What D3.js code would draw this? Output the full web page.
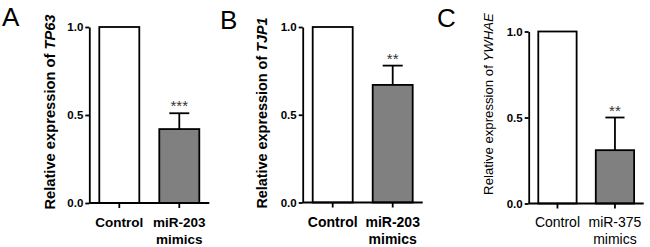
<!DOCTYPE html>
<html>
<head>
<meta charset="utf-8">
<script src="https://cdn.jsdelivr.net/npm/d3@7"></script>
<style>
  body { margin: 0; background: #fff; }
  svg { display: block; }
  .axis path, .axis line { stroke: #000; stroke-width: 1.8; }
</style>
</head>
<body>
<svg width="650" height="247"></svg>
<script>
// values
var letters = ["A", "B", "C"];
var genes = ["TP63", "TJP1", "YWHAE"];
var mimicNames = ["miR-203", "miR-203", "miR-375"];
var controlValues = [1, 1, 1];
var mimicValues = [0.42, 0.67, 0.31];
var mimicErrors = [0.09, 0.11, 0.19];
var stars = ["***", "**", "**"];
var yTicks = [0, 0.5, 1];

// where each panel sits
var layout = [
  {ax: 89.3, len: 120, y0: 203, y1: 27, lx: 2, ly: 26, labX: 55, labY: 112, bold: true, labSize: 14.7, xSize: 13.5},
  {ax: 302.7, len: 120, y0: 202.5, y1: 27, lx: 220, ly: 29, labX: 267, labY: 113, bold: true, labSize: 14.4, xSize: 14},
  {ax: 528.7, len: 115, y0: 203.5, y1: 31.5, lx: 437, ly: 27, labX: 492.5, labY: 104, bold: false, labSize: 13.2, xSize: 14}
];

var svg = d3.select("svg");
var font = "Arial, 'Liberation Sans', sans-serif";

letters.forEach(function(letter, i) {
  var L = layout[i];
  var g = svg.append("g");

  var cats = ["Control", mimicNames[i] + " mimics"];
  var data = [
    {key: cats[0], value: controlValues[i], err: 0, fill: "#fff"},
    {key: cats[1], value: mimicValues[i], err: mimicErrors[i], fill: "#808080"}
  ];

  var x = d3.scaleBand()
    .domain(cats)
    .range([L.ax, L.ax + L.len])
    .paddingInner(1 / 3)
    .paddingOuter(1 / 6);

  var y = d3.scaleLinear()
    .domain([0, 1])
    .range([L.y0, L.y1]);

  // bars
  g.selectAll("rect.bar")
    .data(data)
    .enter().append("rect")
    .attr("class", "bar")
    .attr("x", function(d) { return x(d.key); })
    .attr("y", function(d) { return y(d.value); })
    .attr("width", x.bandwidth())
    .attr("height", function(d) { return y(0) - y(d.value); })
    .attr("fill", function(d) { return d.fill; })
    .attr("stroke", "#000")
    .attr("stroke-width", 1.8);

  // upper error bar only
  var e = data[1];
  var cx = x(e.key) + x.bandwidth() / 2;
  g.append("line")
    .attr("x1", cx).attr("x2", cx)
    .attr("y1", y(e.value)).attr("y2", y(e.value + e.err))
    .attr("stroke", "#000").attr("stroke-width", 1.8);
  g.append("line")
    .attr("x1", cx - x.bandwidth() / 4).attr("x2", cx + x.bandwidth() / 4)
    .attr("y1", y(e.value + e.err)).attr("y2", y(e.value + e.err))
    .attr("stroke", "#000").attr("stroke-width", 1.8);

  g.append("text")
    .attr("x", cx)
    .attr("y", y(e.value + e.err) - 2)
    .attr("text-anchor", "middle")
    .style("font-family", font)
    .style("font-size", "15px")
    .attr("fill", "#333")
    .text(stars[i]);

  // y axis
  var yAxis = g.append("g")
    .attr("class", "axis")
    .attr("transform", "translate(" + L.ax + ",0)")
    .call(d3.axisLeft(y).tickValues(yTicks).tickFormat(d3.format(".1f")).tickSize(4).tickSizeOuter(0).tickPadding(2));
  yAxis.selectAll("text")
    .style("font-family", font)
    .style("font-size", "11.5px")
    .style("font-weight", "bold")
    .attr("fill", "#000");

  // x axis
  var xAxis = g.append("g")
    .attr("class", "axis")
    .attr("transform", "translate(0," + L.y0 + ")")
    .call(d3.axisBottom(x).tickSize(5).tickSizeOuter(0).tickFormat(""));
  xAxis.select(".domain").attr("d", "M" + L.ax + ",0H" + (L.ax + L.len));

  // x labels on two lines
  cats.forEach(function(c) {
    var lines = c.split(" ");
    lines.forEach(function(t, k) {
      g.append("text")
        .attr("x", x(c) + x.bandwidth() / 2)
        .attr("y", 227 + k * 16.5)
        .attr("text-anchor", "middle")
        .style("font-family", font)
        .style("font-size", L.xSize + "px")
        .style("font-weight", L.bold ? "bold" : "normal")
        .text(t);
    });
  });

  // y label
  var lab = g.append("text")
    .attr("transform", "translate(" + L.labX + "," + L.labY + ") rotate(-90)")
    .attr("text-anchor", "middle")
    .style("font-family", font)
    .style("font-size", L.labSize + "px")
    .style("font-weight", L.bold ? "bold" : "normal");
  lab.append("tspan").text("Relative expression of ");
  lab.append("tspan").attr("font-style", "italic").text(genes[i]);

  // panel letter
  g.append("text")
    .attr("x", L.lx)
    .attr("y", L.ly)
    .style("font-family", font)
    .style("font-size", "26px")
    .text(letter);
});
</script>
</body>
</html>
